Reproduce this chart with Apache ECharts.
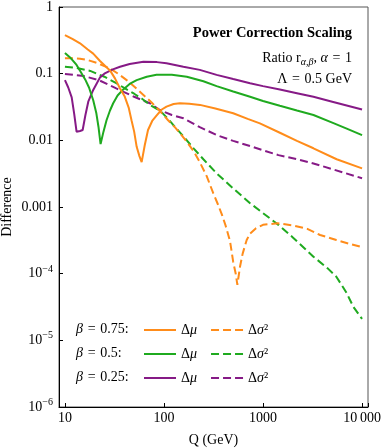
<!DOCTYPE html>
<html><head><meta charset="utf-8">
<script src="https://cdn.jsdelivr.net/npm/echarts@6/dist/echarts.min.js"></script>
<style>html,body{margin:0;padding:0;background:#fff}#c{width:382px;height:448px}</style>
</head><body><div id="c"></div>
<script>
// ---- tick labels ----
const xTickValues = [10, 100, 1000, 10000];
const xTickLabels = ['10', '100', '1000', '10\u2009000'];
const yTickValues = [1e-6, 1e-5, 1e-4, 1e-3, 1e-2, 1e-1, 1];
const yTickLabels = ['10{sup|\u22126}', '10{sup|\u22125}', '10{sup|\u22124}', '0.001', '0.01', '0.1', '1'];

// ---- beta = 0.75 ----
const qB075Mu = [10, 12, 14.2, 17, 19.3, 22.6, 25.5, 28.5, 32, 36, 40, 44, 47, 50, 53, 56.5, 59.5, 64, 69, 76, 84, 95, 106, 125, 145, 180, 231, 330, 500, 700, 930, 1480, 2200, 3230, 5540, 10000];
const vB075Mu = [0.38, 0.33, 0.285, 0.23, 0.2, 0.155, 0.13, 0.112, 0.085, 0.06, 0.046, 0.031, 0.02, 0.0135, 0.008, 0.0058, 0.0047, 0.0085, 0.0143, 0.0195, 0.0235, 0.029, 0.032, 0.035, 0.036, 0.0355, 0.034, 0.030, 0.0255, 0.021, 0.018, 0.013, 0.0098, 0.0076, 0.0052, 0.0038];
const qB075S2 = [10, 12, 14.2, 17, 20.9, 25, 28.5, 35, 42, 50, 62, 75, 91, 110, 130, 145, 170, 200, 230, 270, 315, 350, 383, 420, 464, 500, 530, 551, 586, 623, 684, 740, 850, 1000, 1400, 2000, 2800, 3770, 5500, 7500, 10000];
const vB075S2 = [0.17, 0.17, 0.167, 0.16, 0.145, 0.13, 0.12, 0.098, 0.08, 0.064, 0.048, 0.037, 0.0275, 0.02, 0.0155, 0.0128, 0.0095, 0.0068, 0.0047, 0.0029, 0.0016, 0.0011, 0.00078, 0.00052, 0.00031, 0.00015, 0.0001, 0.000068, 0.000128, 0.0002, 0.00032, 0.0004, 0.00048, 0.00054, 0.00057, 0.00053, 0.00047, 0.00038, 0.00032, 0.00028, 0.00025];

// ---- beta = 0.5 ----
const qB05Mu = [10, 11.5, 13.1, 14.5, 16, 17.5, 19.3, 20.7, 21.8, 22.9, 24.5, 26.3, 28.5, 30.7, 34, 38.8, 45, 53, 67, 84, 120, 170, 250, 340, 500, 740, 1000, 1480, 2200, 3230, 5000, 7000, 10000];
const vB05Mu = [0.205, 0.17, 0.135, 0.105, 0.082, 0.062, 0.040, 0.026, 0.016, 0.0088, 0.0135, 0.02, 0.028, 0.036, 0.047, 0.058, 0.07, 0.08, 0.09, 0.096, 0.096, 0.09, 0.077, 0.065, 0.054, 0.045, 0.039, 0.033, 0.028, 0.024, 0.0184, 0.015, 0.012];
const qB05S2 = [10, 13, 18, 25, 33, 42, 50, 60, 72, 91, 110, 124, 157, 200, 250, 340, 500, 740, 1000, 1430, 2000, 3230, 4500, 5500, 6500, 7000, 8150, 10000];
const vB05S2 = [0.127, 0.122, 0.11, 0.09, 0.072, 0.058, 0.05, 0.042, 0.034, 0.028, 0.021, 0.017, 0.0115, 0.0075, 0.0052, 0.0032, 0.0019, 0.00114, 0.00081, 0.00054, 0.00035, 0.00018, 0.00012, 0.00009, 0.000061, 0.000051, 0.000032, 0.000021];

// ---- beta = 0.25 ----
const qB025Mu = [10, 10.8, 11.7, 12.4, 13.1, 14.2, 15.1, 16.1, 17.2, 19.3, 21, 22.6, 25, 30, 36, 45, 62, 85, 106, 157, 230, 340, 500, 740, 1000, 1480, 2200, 3230, 5000, 10000];
const vB025Mu = [0.08, 0.062, 0.044, 0.025, 0.0135, 0.0138, 0.0143, 0.024, 0.038, 0.057, 0.072, 0.088, 0.1, 0.115, 0.127, 0.14, 0.151, 0.149, 0.143, 0.127, 0.114, 0.096, 0.083, 0.072, 0.065, 0.058, 0.051, 0.045, 0.038, 0.029];
const qB025S2 = [10, 15.5, 22, 33, 50, 72, 91, 120, 157, 230, 340, 500, 740, 1000, 1430, 2200, 3230, 5000, 10000];
const vB025S2 = [0.099, 0.092, 0.08, 0.06, 0.045, 0.036, 0.0285, 0.024, 0.0214, 0.0158, 0.012, 0.0098, 0.0082, 0.0071, 0.006, 0.0052, 0.0045, 0.0037, 0.0027];

// ---- legend rows ----
const rowLabels = ['0.75:', '0.5:', '0.25:'];
const seriesNames = [['b075mu', 'b075s2'], ['b05mu', 'b05s2'], ['b025mu', 'b025s2']];
const legendText = { mu: '\u0394{i|\u03bc}', s2: '\u0394{i|\u03c3}\u00b2' };

const FONT = '"Liberation Serif", "Times New Roman", Times, serif';
const ORANGE = '#FF8C1A', GREEN = '#1FAA1F', PURPLE = '#861A86';
const EQ = '\u2004=\u2004';

function pairs(q, v) { return q.map((x, i) => [x, v[i]]); }
function mk(name, q, v, color, dashed) {
  return {
    name, type: 'line', data: pairs(q, v), symbol: 'none', showSymbol: false,
    lineStyle: { color, width: 2, type: dashed ? [8, 4] : 'solid' },
    itemStyle: { color }, emphasis: { disabled: true }, z: dashed ? 2 : 3
  };
}
function matchLabel(v, vals, labels) {
  for (let i = 0; i < vals.length; i++) if (Math.abs(v - vals[i]) <= vals[i] * 1e-6) return labels[i];
  return '';
}

const chart = echarts.init(document.getElementById('c'), null, { renderer: 'canvas' });
const italic = { fontFamily: FONT, fontSize: 14, fontStyle: 'italic', color: '#000' };
const titles = [
  { text: 'Power Correction Scaling', right: 30, top: 26, padding: 0,
    textStyle: { fontFamily: FONT, fontSize: 14.5, fontWeight: 'bold', color: '#000' } },
  { text: 'Ratio r{sub|\u03b1,\u03b2}, {i|\u03b1}' + EQ + '1', right: 30, top: 49, padding: 0,
    textStyle: { fontFamily: FONT, fontSize: 14, fontWeight: 'normal', color: '#000',
      rich: { sub: { fontFamily: FONT, fontSize: 10, fontStyle: 'italic', color: '#000', padding: [8, 0, 0, 0] },
              i: italic } } },
  { text: '\u039b' + EQ + '0.5 GeV', right: 30, top: 72, padding: 0,
    textStyle: { fontFamily: FONT, fontSize: 14, fontWeight: 'normal', color: '#000' } }
];
rowLabels.forEach((t, i) => titles.push({
  text: '{i|\u03b2}' + EQ + t, left: 76, top: 322 + 24 * i, padding: 0,
  textStyle: { fontFamily: FONT, fontSize: 14, fontWeight: 'normal', color: '#000', rich: { i: italic } }
}));

const legends = seriesNames.map((names, i) => ({
  data: names, left: 143, top: 323 + 24 * i, padding: 0, orient: 'horizontal',
  itemWidth: 32, itemHeight: 14, itemGap: 13, selectedMode: false,
  itemStyle: { opacity: 0, borderWidth: 0 },
  textStyle: { fontFamily: FONT, fontSize: 14, color: '#000', rich: { i: italic } },
  formatter: n => n.endsWith('mu') ? legendText.mu : legendText.s2
}));

chart.setOption({
  animation: false,
  backgroundColor: '#fff',
  title: titles,
  legend: legends,
  grid: { left: 59, right: 14, top: 7, bottom: 41, containLabel: false, outerBoundsMode: 'none',
    show: true, borderColor: '#555', borderWidth: 1, backgroundColor: 'transparent' },
  xAxis: {
    type: 'log', logBase: 10, min: Math.pow(10, 0.94), max: Math.pow(10, 4.06),
    name: 'Q (GeV)', nameLocation: 'middle', nameGap: 26, nameMoveOverlap: false,
    nameTextStyle: { fontFamily: FONT, fontSize: 14, color: '#000' },
    axisLine: { show: true, lineStyle: { color: '#000', width: 1 } },
    axisTick: { show: true, inside: true, length: 4, lineStyle: { color: '#000' } },
    axisLabel: { margin: 4, fontFamily: FONT, fontSize: 14, color: '#000', showMinLabel: true, showMaxLabel: true,
      formatter: v => matchLabel(v, xTickValues, xTickLabels) },
    splitLine: { show: false }, minorTick: { show: false }
  },
  yAxis: {
    type: 'log', logBase: 10, min: 1e-6, max: 1,
    name: 'Difference', nameLocation: 'middle', nameGap: 45, nameMoveOverlap: false,
    nameTextStyle: { fontFamily: FONT, fontSize: 14, color: '#000' },
    axisLine: { show: true, lineStyle: { color: '#000', width: 1 } },
    axisTick: { show: true, inside: true, length: 4, lineStyle: { color: '#000' } },
    axisLabel: { margin: 6, fontFamily: FONT, fontSize: 14, color: '#000',
      formatter: v => matchLabel(v, yTickValues, yTickLabels),
      rich: { sup: { fontFamily: FONT, fontSize: 10, color: '#000', padding: [0, 0, 9, 0] } } },
    splitLine: { show: false }, minorTick: { show: false }
  },
  series: [
    mk('b025s2', qB025S2, vB025S2, PURPLE, true),
    mk('b05s2', qB05S2, vB05S2, GREEN, true),
    mk('b075s2', qB075S2, vB075S2, ORANGE, true),
    mk('b025mu', qB025Mu, vB025Mu, PURPLE, false),
    mk('b05mu', qB05Mu, vB05Mu, GREEN, false),
    mk('b075mu', qB075Mu, vB075Mu, ORANGE, false)
  ]
});
</script></body></html>
